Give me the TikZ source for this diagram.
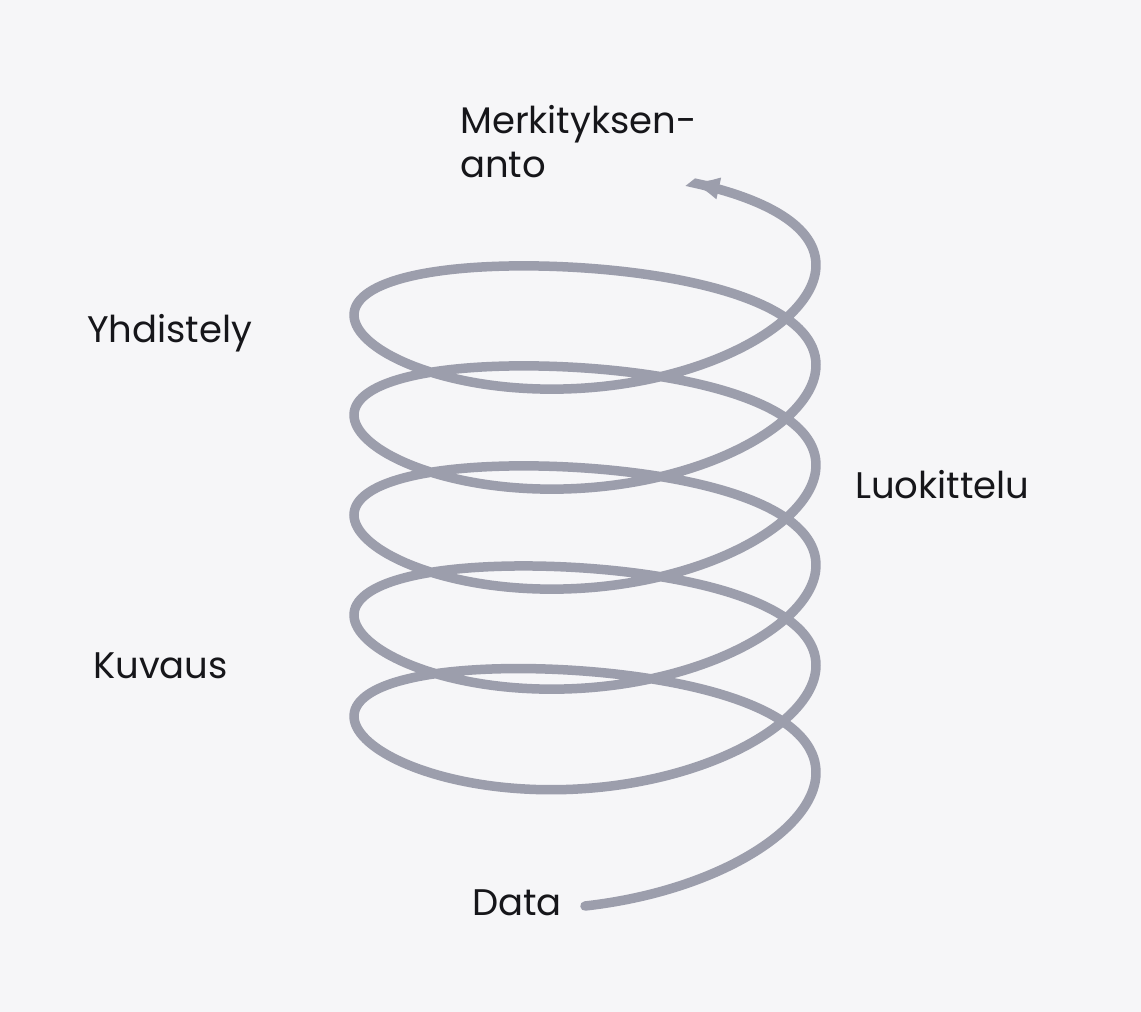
\documentclass[tikz,border=0pt]{standalone}
\usepackage{fontspec}
\setmainfont{Poppins}
\usetikzlibrary{arrows.meta}
\definecolor{paper}{RGB}{246,246,248}
\definecolor{coil}{RGB}{156,158,172}
\definecolor{ink}{RGB}{22,22,26}
\tikzset{
  lbl/.style={inner sep=0pt, anchor=base west, text=ink, font=\fontsize{37}{44}\selectfont},
  spiral/.style={draw=coil, line width=9.5pt, line cap=round,
    -{Latex[length=30pt,width=23pt]}}
}
\begin{document}
\begin{tikzpicture}[x=1pt,y=-1pt]
\fill[paper] (0,0) rectangle (1141,1012);
\useasboundingbox (0,0) rectangle (1141,1012);
\draw[spiral] plot[domain=0:34.10, samples=800, smooth, variable=\t]
  ({585+231*sin(\t r)}, {790 - 15.9155*\t + 85*cos(\t r) + 13*pow(cos(\t r),2) + 18*exp(-\t/1.8)});
\node[lbl] (merk) at (460,133) {Merkityksen-};
\node[lbl] (anto) at (460,177) {anto};
\node[lbl] (yhd) at (87,342) {Yhdistely};
\node[lbl] (luok) at (855,498) {Luokittelu};
\node[lbl] (kuv) at (93,678) {Kuvaus};
\node[lbl] (data) at (472,915) {Data};
\end{tikzpicture}
\end{document}
